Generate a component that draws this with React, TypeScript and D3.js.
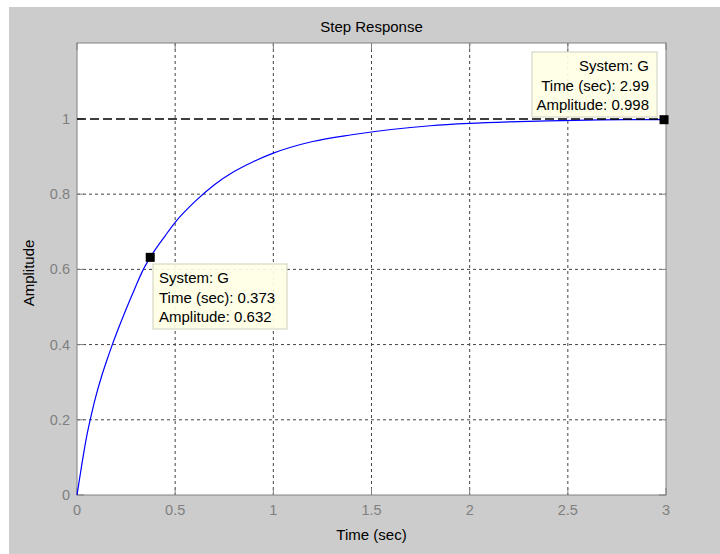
import React from "react";
import * as d3 from "d3";

const timeValues = [0, 0.025, 0.05, 0.075, 0.1, 0.125, 0.15, 0.18, 0.2, 0.25, 0.3, 0.336, 0.373, 0.45, 0.5, 0.6, 0.7, 0.8, 0.9, 1.0, 1.2, 1.4, 1.6, 1.8, 2.0, 2.2, 2.4, 2.6, 2.8, 2.99, 3.0];
const amplitudeValues = [0, 0.083, 0.158, 0.218, 0.27, 0.315, 0.355, 0.4, 0.428, 0.494, 0.556, 0.598, 0.632, 0.69, 0.725, 0.78, 0.825, 0.86, 0.887, 0.909, 0.94, 0.958, 0.972, 0.982, 0.988, 0.992, 0.995, 0.997, 0.998, 0.998, 0.998];
const xTicks = [0, 0.5, 1, 1.5, 2, 2.5, 3];
const yTicks = [0, 0.2, 0.4, 0.6, 0.8, 1];
const steadyState = 1;
const dataTips = [
  { t: 0.373, a: 0.632, lines: ["System: G", "Time (sec): 0.373", "Amplitude: 0.632"] },
  { t: 2.99, a: 0.998, lines: ["System: G", "Time (sec): 2.99", "Amplitude: 0.998"] },
];

const W = 720, H = 554;
const L = 77, R = 666, T = 43, B = 495;
const font = "'Liberation Sans', Arial, sans-serif";

export default function App() {
  const x = d3.scaleLinear().domain([0, 3]).range([L, R]);
  const y = d3.scaleLinear().domain([0, 1.202]).range([B, T]);
  const pts = timeValues.map((t, i) => [t, amplitudeValues[i]] as [number, number]);
  const line = d3.line<[number, number]>().x(d => x(d[0])).y(d => y(d[1])).curve(d3.curveMonotoneX);
  const tick = 7;
  const fmt = (v: number) => String(v);
  const tipBoxes = [
    { x0: 153, y0: 264, w: 134, h: 65, anchor: "start", tx: 159 },
    { x0: 532, y0: 52, w: 125, h: 65, anchor: "end", tx: 649 },
  ];
  return (
    <div style={{ position: "fixed", left: 0, top: 0 }}>
      <svg width={W} height={H} style={{ display: "block" }}>
        <rect x={0} y={0} width={W} height={H} fill="#ffffff" />
        <rect x={9} y={7} width={W - 9} height={H - 7} fill="#cccccc" />
        <rect x={L} y={T} width={R - L} height={B - T} fill="#ffffff" />
        {xTicks.filter(v => v > 0 && v < 3).map(v => (
          <line key={"gx" + v} x1={x(v)} x2={x(v)} y1={T} y2={B} stroke="#444" strokeWidth={1} strokeDasharray="3,3" />
        ))}
        {yTicks.filter(v => v > 0 && v < 1).map(v => (
          <line key={"gy" + v} x1={L} x2={R} y1={y(v)} y2={y(v)} stroke="#444" strokeWidth={1} strokeDasharray="3,3" />
        ))}
        {xTicks.map(v => (
          <g key={"tx" + v}>
            <line x1={x(v)} x2={x(v)} y1={B} y2={B - tick} stroke="#808080" />
            <line x1={x(v)} x2={x(v)} y1={T} y2={T + tick} stroke="#808080" />
            <text x={x(v)} y={B + 20} textAnchor="middle" fontFamily={font} fontSize={14.5} fill="#808080">{fmt(v)}</text>
          </g>
        ))}
        {yTicks.map(v => (
          <g key={"ty" + v}>
            <line x1={L} x2={L + tick} y1={y(v)} y2={y(v)} stroke="#808080" />
            <line x1={R} x2={R - tick} y1={y(v)} y2={y(v)} stroke="#808080" />
            <text x={L - 7} y={y(v) + 5} textAnchor="end" fontFamily={font} fontSize={14.5} fill="#808080">{fmt(v)}</text>
          </g>
        ))}
        <rect x={L} y={T} width={R - L} height={B - T} fill="none" stroke="#808080" strokeWidth={1} />
        <path d={line(pts) || ""} fill="none" stroke="#0000ff" strokeWidth={1.2} />
        <line x1={L} x2={R} y1={y(steadyState)} y2={y(steadyState)} stroke="#000" strokeWidth={1.4} strokeDasharray="9,4" />
        {dataTips.map((d, i) => {
          const b = tipBoxes[i];
          return (
            <g key={"tip" + i}>
              <rect x={b.x0} y={b.y0} width={b.w} height={b.h} fill="#ffffe6" fillOpacity={0.92} stroke="#d8d8c8" strokeWidth={1.2} />
              {d.lines.map((s, j) => (
                <text key={j} x={b.tx} y={b.y0 + 19 + j * 19.5} textAnchor={b.anchor as any} fontFamily={font} fontSize={15} fill="#000">{s}</text>
              ))}
              <rect x={x(d.t) - 4.5} y={y(d.a) - 4.5} width={9} height={9} fill="#000" />
            </g>
          );
        })}
        <text x={(L + R) / 2} y={32} textAnchor="middle" fontFamily={font} fontSize={15} fill="#000">Step Response</text>
        <text x={(L + R) / 2} y={540} textAnchor="middle" fontFamily={font} fontSize={15} fill="#000">Time (sec)</text>
        <text transform={`translate(34, ${(T + B) / 2 + 4}) rotate(-90)`} textAnchor="middle" fontFamily={font} fontSize={15} fill="#000">Amplitude</text>
      </svg>
    </div>
  );
}
